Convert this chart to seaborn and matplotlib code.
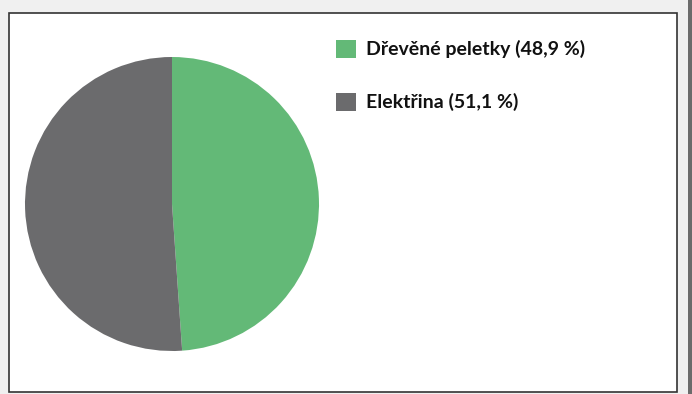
import matplotlib
matplotlib.use("Agg")
import matplotlib.pyplot as plt
import matplotlib.patches as mpatches
import seaborn as sns

labels = ["Dřevěné peletky (48,9 %)", "Elektřina (51,1 %)"]
values = [48.9, 51.1]
colors = ["#63b977", "#6b6b6d"]

sns.set_theme(style="white")
plt.rcParams['font.family'] = ['Lato', 'DejaVu Sans']

fig = plt.figure(figsize=(6.92, 3.94), dpi=100)
fig.patch.set_facecolor("#f0f0f0")
W, H = 692, 394

# white panel with border
panel = mpatches.Rectangle((9 / W, 1 - 392 / H), (677 - 9) / W, (392 - 13) / H,
                           transform=fig.transFigure, facecolor="white",
                           edgecolor="#333333", linewidth=1.2, zorder=-2)
fig.patches.append(panel)
# dark bar at right edge
bar = mpatches.Rectangle((688 / W, 0), 4 / W, 1, transform=fig.transFigure,
                         facecolor="#6b6b6b", edgecolor="none", zorder=-2)
fig.patches.append(bar)

cx, cy, r = 172, 204, 147
ax = fig.add_axes([(cx - r) / W, 1 - (cy + r) / H, 2 * r / W, 2 * r / H])
ax.set_zorder(2)
ax.set_facecolor("none")
ax.patch.set_alpha(0)
wedges, _ = ax.pie(values, colors=colors, startangle=90, counterclock=False,
                   wedgeprops=dict(linewidth=0), radius=1.0)
ax.set_aspect("equal")
ax.set_xlim(-1, 1)
ax.set_ylim(-1, 1)
ax.axis("off")

leg = fig.legend(wedges, labels, loc="upper left",
                 bbox_to_anchor=(318 / W, 1 - 22 / H), frameon=False,
                 prop=dict(weight="bold", size=14), labelspacing=1.78,
                 handlelength=1.05, handleheight=1.05, handletextpad=0.5)
leg.set_zorder(3)
for t in leg.get_texts():
    t.set_color("#111111")

fig.savefig("out.png", dpi=100, facecolor=fig.get_facecolor())
